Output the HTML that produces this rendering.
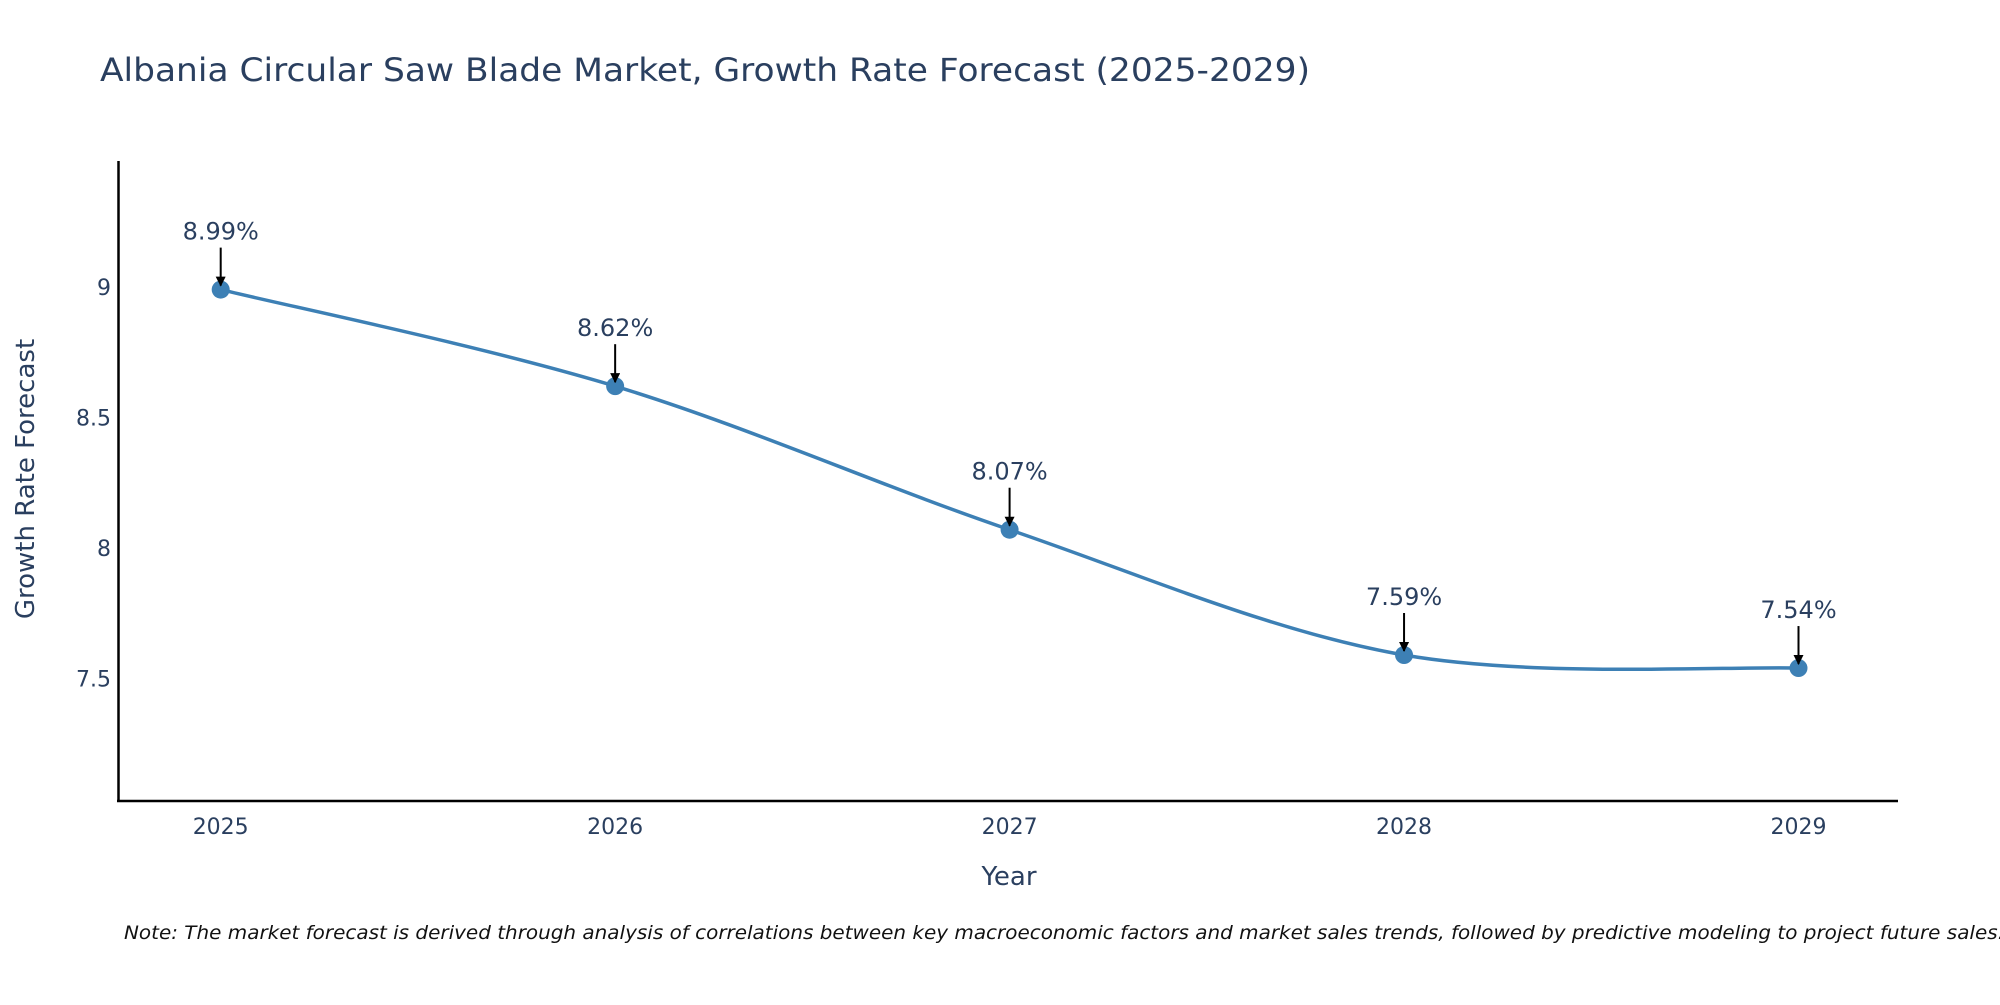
<!DOCTYPE html>
<html><head><meta charset="utf-8"><style>
body{margin:0;background:#fff;}
svg text{font-family:"DejaVu Sans","Liberation Sans",sans-serif;fill:#2a3f5f;}
</style></head><body>
<svg id="chart" width="2000" height="1000" viewBox="0 0 2000 1000" xmlns="http://www.w3.org/2000/svg">
<defs><marker id="ah" viewBox="0 0 10 10" refX="9" refY="5" markerWidth="5" markerHeight="5" orient="auto"><path d="M0,0 L10,5 L0,10 z" fill="#000"/></marker></defs>
<text x="100" y="81" font-size="32" textLength="1210" lengthAdjust="spacingAndGlyphs">Albania Circular Saw Blade Market, Growth Rate Forecast (2025-2029)</text>
<g id="plot"></g>
<text transform="translate(34,479) rotate(-90)" text-anchor="middle" font-size="26">Growth Rate Forecast</text>
<text x="1009" y="885" text-anchor="middle" font-size="26">Year</text>
<text x="124" y="939" font-size="19" font-style="italic" style="fill:#111" textLength="1880" lengthAdjust="spacingAndGlyphs">Note: The market forecast is derived through analysis of correlations between key macroeconomic factors and market sales trends, followed by predictive modeling to project future sales.</text>
</svg>
<script>
const categories = ["2025","2026","2027","2028","2029"];
const values = [8.99, 8.62, 8.07, 7.59, 7.54];
const valueLabels = ["8.99%","8.62%","8.07%","7.59%","7.54%"];
const yTicks = [7.5, 8, 8.5, 9];
const yTickLabels = ["7.5","8","8.5","9"];

const NS="http://www.w3.org/2000/svg";
const g=document.getElementById('plot');
const x0=220.7, dx=394.45;
const xScale=i=>x0+i*dx;
const yScale=v=>287+(9-v)*261;
function mk(t,a){const e=document.createElementNS(NS,t);for(const k in a)e.setAttribute(k,a[k]);g.appendChild(e);return e;}
let ax=mk('line',{x1:118.5,y1:161,x2:118.5,y2:802,stroke:'#000','stroke-width':2.5});


ax=mk('line',{x1:117,y1:801,x2:1898,y2:801,stroke:'#000','stroke-width':2.5});


yTicks.forEach((v,i)=>{const t=mk('text',{x:111,y:yScale(v)+8,'text-anchor':'end','font-size':22});t.textContent=yTickLabels[i];

});
categories.forEach((c,i)=>{const t=mk('text',{x:xScale(i),y:834,'text-anchor':'middle','font-size':22});t.textContent=c;

});
const P=values.map((v,i)=>[xScale(i),yScale(v)]);
let d=`M${P[0][0]},${P[0][1]}`;
for(let i=0;i<P.length-1;i++){const p0=P[Math.max(i-1,0)],p1=P[i],p2=P[i+1],p3=P[Math.min(i+2,P.length-1)];
const c1=[p1[0]+(p2[0]-p0[0])/6,p1[1]+(p2[1]-p0[1])/6],c2=[p2[0]-(p3[0]-p1[0])/6,p2[1]-(p3[1]-p1[1])/6];
d+=` C${c1[0]},${c1[1]} ${c2[0]},${c2[1]} ${p2[0]},${p2[1]}`;}
const ln=mk('path',{d:d,fill:'none',stroke:'#3d80b5','stroke-width':3.5});


P.forEach((p,i)=>{const c=mk('circle',{cx:p[0],cy:p[1],r:9,fill:'#3d80b5'});


const a=mk('line',{x1:p[0],y1:p[1]-42,x2:p[0],y2:p[1]-4,stroke:'#000','stroke-width':2,'marker-end':'url(#ah)'});


const t=mk('text',{x:p[0],y:p[1]-50,'text-anchor':'middle','font-size':24});t.textContent=valueLabels[i];

});
</script>
</body></html>
